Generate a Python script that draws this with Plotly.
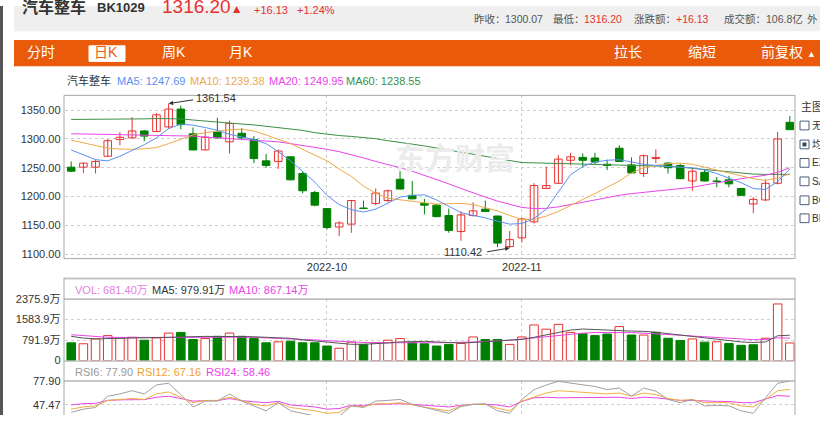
import plotly.graph_objects as go

W, H = 820, 421
FONT = "Liberation Sans, Arial, Noto Sans CJK SC, sans-serif"

# ---------------- data ----------------
dates = [
    "2022-09-01", "2022-09-02", "2022-09-05", "2022-09-06", "2022-09-07", "2022-09-08", "2022-09-09",
    "2022-09-13", "2022-09-14", "2022-09-15", "2022-09-16", "2022-09-19", "2022-09-20", "2022-09-21",
    "2022-09-22", "2022-09-23", "2022-09-26", "2022-09-27", "2022-09-28", "2022-09-29", "2022-09-30",
    "2022-10-10", "2022-10-11", "2022-10-12", "2022-10-13", "2022-10-14", "2022-10-17", "2022-10-18",
    "2022-10-19", "2022-10-20", "2022-10-21", "2022-10-24", "2022-10-25", "2022-10-26", "2022-10-27",
    "2022-10-28", "2022-10-31", "2022-11-01", "2022-11-02", "2022-11-03", "2022-11-04", "2022-11-07",
    "2022-11-08", "2022-11-09", "2022-11-10", "2022-11-11", "2022-11-14", "2022-11-15", "2022-11-16",
    "2022-11-17", "2022-11-18", "2022-11-21", "2022-11-22", "2022-11-23", "2022-11-24", "2022-11-25",
    "2022-11-28", "2022-11-29", "2022-11-30", "2022-12-01",
]
opens = [1251, 1251, 1251, 1270, 1299, 1302, 1314, 1313, 1321, 1352,
         1309, 1281, 1312, 1295, 1310, 1299, 1262, 1261, 1269, 1240,
         1207, 1179, 1147, 1152, 1180, 1188, 1193, 1230, 1202, 1188,
         1185, 1167, 1139, 1167, 1178, 1166, 1113, 1128, 1156, 1214,
         1223, 1263, 1268, 1267, 1256, 1284, 1255, 1240, 1266, 1258,
         1254, 1227, 1242, 1227, 1229, 1214, 1187, 1194, 1223, 1329]
highs = [1261, 1259, 1264, 1300, 1312, 1338, 1316, 1345, 1361.54, 1358,
         1320, 1317, 1337, 1332, 1319, 1305, 1274, 1282, 1270, 1244,
         1210, 1180, 1157, 1194, 1193, 1214, 1212, 1244, 1227, 1196,
         1187, 1179, 1174, 1190, 1193, 1167, 1140, 1163, 1223, 1252,
         1272, 1276, 1275, 1276, 1264, 1289, 1268, 1273, 1282, 1260,
         1257, 1248, 1248, 1234, 1236, 1215, 1199, 1230, 1312, 1340]
lows = [1243, 1241, 1240, 1269, 1289, 1301, 1296, 1312, 1318, 1317,
        1280, 1280, 1301, 1275, 1298, 1258, 1250, 1248, 1228, 1206,
        1183, 1143, 1131, 1137, 1178, 1185, 1190, 1212, 1195, 1169,
        1164, 1137, 1123, 1165, 1173, 1112, 1110.42, 1120, 1153, 1213,
        1222, 1254, 1251, 1256, 1246, 1260, 1240, 1234, 1258, 1240,
        1230, 1210, 1226, 1216, 1216, 1201, 1171, 1192, 1221, 1316.2]
closes = [1244, 1258, 1261, 1297, 1303, 1314, 1305, 1342, 1352, 1325,
          1281, 1303, 1302, 1327, 1302, 1266, 1254, 1279, 1229, 1210,
          1185, 1146, 1154, 1193, 1179, 1206, 1210, 1213, 1196, 1185,
          1165, 1141, 1168, 1175, 1174, 1119, 1125, 1161, 1219, 1219,
          1265, 1269, 1263, 1260, 1254, 1261, 1241, 1271, 1268, 1250,
          1231, 1244, 1227, 1226, 1222, 1202, 1195, 1223, 1300.07, 1316.2]

ma5 = [1281, 1272, 1264, 1262, 1270, 1280, 1290, 1302, 1318, 1326,
       1324, 1320, 1315, 1308, 1304, 1299, 1292, 1278, 1262, 1244,
       1225, 1202, 1186, 1177, 1173, 1178, 1189, 1199, 1202, 1203,
       1194, 1183, 1172, 1167, 1163, 1157, 1152, 1153, 1162, 1178,
       1208, 1238, 1252, 1260, 1263, 1264, 1260, 1256, 1254, 1252,
       1251, 1250, 1246, 1240, 1232, 1224, 1214, 1212, 1226, 1247.69]
ma10 = [1298, 1293, 1288, 1284, 1282.5, 1282, 1283, 1285, 1292, 1300,
        1307, 1311, 1314, 1316, 1317, 1314, 1307, 1300, 1292, 1282,
        1272, 1262, 1248, 1235, 1218, 1206, 1197, 1194, 1192, 1189,
        1187, 1187.5, 1188, 1186, 1181, 1175, 1167, 1160, 1160, 1166,
        1174, 1185, 1195, 1205, 1216, 1227, 1241, 1250, 1254, 1257,
        1258, 1256, 1251, 1246, 1240, 1235, 1231, 1228, 1232, 1239.38]
ma20 = [1309, 1309, 1308.5, 1308, 1307.5, 1307, 1306.5, 1306, 1306.5, 1306,
        1305, 1303.5, 1302, 1300.5, 1299.5, 1298, 1296.5, 1295, 1292, 1289,
        1285, 1282, 1278, 1273, 1267, 1261, 1256, 1250, 1244, 1237,
        1230, 1222, 1214, 1206, 1199, 1192, 1186, 1181, 1179, 1179.5,
        1182, 1186, 1190, 1194, 1199, 1202, 1205, 1207, 1209, 1211,
        1213, 1216, 1220, 1224, 1228, 1231, 1234, 1237, 1242, 1249.95]
ma60 = [1334, 1334, 1334, 1334.5, 1335, 1335, 1335, 1335.5, 1335.5, 1335,
        1333, 1331, 1329, 1327.5, 1326, 1324.5, 1322, 1320, 1317.5, 1315,
        1311, 1308, 1306, 1304.5, 1302.5, 1300.5, 1297, 1293.5, 1291, 1288,
        1284, 1281, 1277, 1273.5, 1270, 1266.5, 1262, 1259, 1258.5, 1258,
        1257.5, 1257, 1256.5, 1256, 1255.5, 1255.5, 1255, 1254.5, 1253.5, 1252.5,
        1251, 1249, 1246.5, 1244, 1242, 1240, 1239, 1238.5, 1238.5, 1238.55]

volumes = [687, 650, 837, 965, 876, 901, 788, 876, 1063, 1089,
           814, 851, 938, 1063, 938, 851, 687, 726, 750, 687,
           687, 563, 476, 713, 626, 687, 788, 851, 687, 650,
           563, 626, 664, 913, 814, 814, 626, 913, 1377, 1213,
           1400, 1089, 1040, 965, 1025, 1314, 987, 987, 1089, 863,
           777, 837, 713, 726, 664, 589, 612, 863, 2188, 681.4]
vol_up = [0, 1, 1, 1, 1, 1, 0, 1, 1, 0,
          0, 1, 0, 1, 0, 0, 0, 1, 0, 0,
          0, 0, 1, 1, 0, 1, 1, 1, 0, 0,
          0, 0, 1, 1, 0, 0, 1, 1, 1, 1,
          1, 1, 0, 0, 0, 1, 0, 1, 0, 0,
          0, 1, 0, 1, 0, 0, 0, 1, 1, 1]
vol_ma5 = [938, 870, 840, 845, 860, 880, 885, 890, 900, 920,
           930, 935, 930, 940, 930, 920, 900, 880, 860, 800,
           760, 700, 660, 630, 630, 650, 680, 720, 740, 745,
           720, 690, 680, 700, 740, 760, 790, 820, 900, 1000,
           1100, 1180, 1220, 1200, 1160, 1150, 1140, 1130, 1100, 1040,
           980, 920, 880, 830, 780, 720, 700, 720, 960, 979.91]
vol_ma10 = [1000, 960, 920, 900, 895, 890, 885, 885, 890, 895,
            900, 905, 905, 910, 905, 895, 880, 860, 840, 820,
            800, 770, 740, 715, 700, 690, 685, 690, 690, 690,
            690, 695, 700, 720, 740, 760, 790, 830, 880, 930,
            980, 1020, 1060, 1085, 1090, 1090, 1080, 1060, 1040, 1010,
            980, 950, 920, 890, 860, 830, 810, 810, 880, 867.14]

rsi6 = [38.1, 42.2, 44.3, 58.6, 61.5, 65.6, 61.5, 73, 75, 60.7,
        45, 52.4, 52.4, 61.5, 52.4, 46.3, 40.1, 50.4, 40.1, 36.9,
        33, 30, 33, 46.3, 44.3, 52.4, 53.3, 54.5, 48.3, 44.3,
        40.1, 36.9, 45.5, 48.3, 49, 40.1, 36.9, 54.5, 66.9, 72.8,
        77.5, 75, 73, 71, 67, 69, 58.6, 69, 65, 54.5,
        50.4, 54.5, 46.3, 47, 46.3, 40.1, 36.9, 56.6, 75, 77.90]
rsi12 = [42.2, 45, 46.3, 53.3, 54.5, 55.7, 54.5, 61.5, 64, 57.3,
         50.4, 53.3, 53.3, 57.3, 53.3, 48.3, 46.3, 50.4, 44.3, 42.2,
         40.1, 36.9, 38.1, 46.3, 45.5, 49, 49, 50.4, 47.5, 45,
         42.2, 40.1, 46.3, 48.3, 48.3, 43.4, 40.1, 52.4, 57.3, 62.6,
         65.6, 64.8, 64, 62.6, 61.5, 62.6, 58.6, 62.6, 60.7, 55.7,
         53.3, 54.5, 50.4, 50.4, 50.4, 46.3, 45, 54.5, 65.6, 67.16]
rsi24 = [47.5, 49.2, 49.6, 53.3, 54, 54.5, 54.3, 57.3, 58.6, 55.7,
         52.4, 53, 53, 55.7, 53, 51.6, 50.4, 52, 47.5, 46.3,
         45, 42.2, 43, 47, 47, 48.3, 49, 49, 48.3, 47.5,
         46.3, 45, 47, 48.3, 48.3, 47.5, 45, 52, 56.6, 57.3,
         56.6, 56.6, 56.6, 56.6, 56.6, 57.3, 55.7, 57.3, 56.6, 54.5,
         53.3, 53.3, 52.4, 52, 52, 50.4, 50.4, 54.5, 59.5, 58.46]

price_ticks = [1100, 1150, 1200, 1250, 1300, 1350]
vol_ticks = [0, 791.9, 1583.9, 2375.9]
vol_tick_text = ["0", "791.9万", "1583.9万", "2375.9万"]
rsi_ticks = [47.47, 77.90]
month_ticks = ["2022-10-10", "2022-11-01"]
month_text = ["2022-10", "2022-11"]

# ---------------- colours ----------------
RED = "#e8312f"
GREEN = "#008000"
C_MA5 = "#5b8ff0"
C_MA10 = "#eea84a"
C_MA20 = "#e845e8"
C_MA60 = "#3a8f46"
ORANGE = "#ea5a0b"


def px(x):
    return x / W


def py(y):
    return 1 - y / H


X0, X1 = 64.5, 795.0
SLOT, FIRST = 12.18, 71.2
xrange_ = [(X0 - FIRST) / SLOT, (X1 - FIRST) / SLOT]
xdom = [px(X0), px(X1)]

fig = go.Figure()

# ---- candle wicks ----
up = [c >= o for o, c in zip(opens, closes)]
for flag, col in ((True, RED), (False, GREEN)):
    xs, ys = [], []
    for i, d in enumerate(dates):
        if up[i] == flag:
            xs += [d, d, None]
            ys += [lows[i], highs[i], None]
    fig.add_trace(go.Scatter(x=xs, y=ys, mode="lines", line=dict(color=col, width=1),
                             hoverinfo="skip", showlegend=False, xaxis="x", yaxis="y"))

# ---- candle bodies ----
fig.add_trace(go.Bar(
    x=dates,
    y=[max(abs(c - o), 0.5) for o, c in zip(opens, closes)],
    base=[min(o, c) for o, c in zip(opens, closes)],
    width=0.62,
    marker=dict(color=["#ffffff" if u else GREEN for u in up],
                line=dict(color=[RED if u else GREEN for u in up], width=1)),
    showlegend=False, xaxis="x", yaxis="y", hoverinfo="skip"))

# ---- moving averages ----
for arr, col in ((ma60, C_MA60), (ma20, C_MA20), (ma10, C_MA10), (ma5, C_MA5)):
    fig.add_trace(go.Scatter(x=dates, y=arr, mode="lines", line=dict(color=col, width=1),
                             showlegend=False, xaxis="x", yaxis="y", hoverinfo="skip"))

# ---- volume ----
fig.add_trace(go.Bar(
    x=dates, y=volumes, width=0.7,
    marker=dict(color=["#ffffff" if u else GREEN for u in vol_up],
                line=dict(color=[RED if u else GREEN for u in vol_up], width=1)),
    showlegend=False, xaxis="x2", yaxis="y2", hoverinfo="skip"))
fig.add_trace(go.Scatter(x=dates, y=vol_ma10, mode="lines", line=dict(color=C_MA20, width=1),
                         showlegend=False, xaxis="x2", yaxis="y2", hoverinfo="skip"))
fig.add_trace(go.Scatter(x=dates, y=vol_ma5, mode="lines", line=dict(color="#555555", width=1),
                         showlegend=False, xaxis="x2", yaxis="y2", hoverinfo="skip"))

# ---- RSI ----
for arr, col in ((rsi24, C_MA20), (rsi12, "#f0b040"), (rsi6, "#a0a0a0")):
    fig.add_trace(go.Scatter(x=dates, y=arr, mode="lines", line=dict(color=col, width=1),
                             showlegend=False, xaxis="x3", yaxis="y3", hoverinfo="skip"))

tickfont = dict(family=FONT, size=11, color="#333333")
xcommon = dict(domain=xdom, type="category", categoryorder="array", categoryarray=dates,
               range=xrange_, tickvals=month_ticks, ticktext=month_text, showgrid=True,
               gridcolor="#cfcfcf", griddash="dot", gridwidth=1, zeroline=False,
               showline=False, ticks="", tickfont=tickfont, fixedrange=True)

fig.update_layout(
    width=W, height=H, margin=dict(l=0, r=0, t=0, b=0),
    paper_bgcolor="white", plot_bgcolor="white", bargap=0,
    font=dict(family=FONT, size=11, color="#333333"),
    xaxis=dict(xcommon, anchor="y"),
    yaxis=dict(domain=[py(260), py(92)], range=[1092.06, 1375.84], tickvals=price_ticks,
               ticktext=["%.2f" % v for v in price_ticks], showgrid=True, gridcolor="#cfcfcf",
               griddash="dot", zeroline=False, ticks="", tickfont=tickfont, anchor="x",
               ticklabelstandoff=3),
    xaxis2=dict(xcommon, anchor="y2", matches="x", showticklabels=False),
    yaxis2=dict(domain=[py(365), py(301.7)], range=[0, 2375.9], tickvals=vol_ticks,
                ticktext=vol_tick_text, showgrid=True, gridcolor="#cfcfcf", griddash="dot",
                zeroline=False, ticks="", tickfont=tickfont, anchor="x2", ticklabelstandoff=3),
    xaxis3=dict(xcommon, anchor="y3", matches="x", showticklabels=False),
    yaxis3=dict(domain=[0, py(386)], range=[34.78, 77.90], tickvals=rsi_ticks,
                ticktext=["%.2f" % v for v in rsi_ticks], showgrid=True, gridcolor="#cfcfcf",
                griddash="dot", zeroline=False, ticks="", tickfont=tickfont, anchor="x3",
                ticklabelstandoff=3),
)

shapes = []


def rect(x0, y0, x1, y1, fill=None, line=None, lw=1, layer="below"):
    shapes.append(dict(type="rect", xref="paper", yref="paper", x0=px(x0), x1=px(x1),
                       y0=py(y1), y1=py(y0), fillcolor=fill or "rgba(0,0,0,0)",
                       line=dict(color=line or "rgba(0,0,0,0)", width=lw if line else 0),
                       layer=layer))


def hline(x0, x1, y, col="#999999", lw=1):
    shapes.append(dict(type="line", xref="paper", yref="paper", x0=px(x0), x1=px(x1),
                       y0=py(y), y1=py(y), line=dict(color=col, width=lw), layer="above"))


def vline(x, y0, y1, col="#999999", lw=1):
    shapes.append(dict(type="line", xref="paper", yref="paper", x0=px(x), x1=px(x),
                       y0=py(y0), y1=py(y1), line=dict(color=col, width=lw), layer="above"))


# page chrome
rect(0, 0, 3, H, fill="#555555")
rect(14, 0, W, 26, fill="#efefef")
rect(14, 35, W, 62, fill=ORANGE)
rect(89, 41, 125, 57, fill="white", line="white", lw=1)
# main frame
rect(64, 92, 795, 260, line="#a8a8a8", layer="above")
# lower panels
hline(64, 795, 280.5, col="#c4c4c4", lw=2)
vline(64, 280, H, col="#a8a8a8")
vline(795, 280, H, col="#a8a8a8")
hline(64, 795, 301.7, col="#909090")
hline(64, 795, 365.5, col="#a8a8a8")
hline(64, 795, 386, col="#909090")
# side panel checkboxes
box_y = [123, 142.5, 161.5, 180.5, 200, 218.5]
for k, yy in enumerate(box_y):
    rect(800, yy - 4.5, 809, yy + 4.5, fill="white", line="#4d5e7a", layer="above")
    if k == 1:
        rect(802.5, yy - 2, 806.5, yy + 2, fill="#34495e", layer="above")
fig.update_layout(shapes=shapes)

ann = []


def txt(x, y, s, size=11, color="#333333", anchor="left", bold=False):
    if bold:
        s = "<b>" + s + "</b>"
    ann.append(dict(x=px(x), y=py(y), xref="paper", yref="paper", text=s, showarrow=False,
                    xanchor=anchor, yanchor="middle", font=dict(family=FONT, size=size, color=color)))


# header
txt(20, 1, "汽车整车", size=16, color="#333333", bold=True)
txt(95, 2, "BK1029", size=13, color="#333333", bold=True)
txt(160, 1, "1316.20<span style='font-size:12px'>▲</span>", size=19, color=RED)
txt(252, 4, "+16.13", size=11, color=RED)
txt(295, 4, "+1.24%", size=11, color=RED)
HS = 10.5
txt(472, 13, "昨收：", size=HS, color="#555555")
txt(503, 13, "1300.07", size=HS, color="#555555")
txt(551, 13, "最低：", size=HS, color="#555555")
txt(582, 13, "1316.20", size=HS, color=RED)
txt(632, 13, "涨跌额：", size=HS, color="#555555")
txt(674, 13, "+16.13", size=HS, color=RED)
txt(722, 13, "成交额：", size=HS, color="#555555")
txt(764, 13, "106.8亿", size=HS, color="#555555")
txt(805, 13, "外", size=HS, color="#555555")
# toolbar
txt(25, 47.5, "分时", size=14, color="white")
txt(92, 47.5, "日K", size=14, color=ORANGE)
txt(160, 47.5, "周K", size=14, color="white")
txt(227, 47.5, "月K", size=14, color="white")
txt(612, 47.5, "拉长", size=14, color="white")
txt(686, 47.5, "缩短", size=14, color="white")
txt(759, 47.5, "前复权 <span style='font-size:9px'>▲</span>", size=14, color="white")
# legend row
txt(65, 77, "汽车整车", size=11, color="#333333")
txt(115, 77, "MA5: 1247.69", size=11, color=C_MA5)
txt(188, 77, "MA10: 1239.38", size=11, color=C_MA10)
txt(267, 77, "MA20: 1249.95", size=11, color=C_MA20)
txt(344, 77, "MA60: 1238.55", size=11, color=C_MA60)
# watermark
txt(455, 157, "东方财富", size=30, color="#ececec", anchor="center", bold=True)
# volume / rsi rows
txt(73, 292, "VOL: 681.40万", size=11, color="#e37ee3")
txt(150, 292, "MA5: 979.91万", size=11, color="#333333")
txt(227, 292, "MA10: 867.14万", size=11, color=C_MA20)
txt(73, 377, "RSI6: 77.90", size=11, color="#999999")
txt(135, 377, "RSI12: 67.16", size=11, color="#f0a030")
txt(204, 377, "RSI24: 58.46", size=11, color=C_MA20)
# side panel
txt(799, 104, "主图", size=11, color="#333333")
for lab, yy in zip(["无", "均", "EX", "SA", "BO", "BB"], box_y):
    txt(810, yy, lab, size=10, color="#333333")

# high / low markers
ann.append(dict(x=dates[8], y=1361.54, xref="x", yref="y", text="", showarrow=True,
                ax=26, ay=-4, arrowhead=2, arrowsize=0.9, arrowwidth=1, arrowcolor="#333333"))
txt(194, 95, "1361.54", size=11, color="#333333")
ann.append(dict(x=dates[36], y=1110.42, xref="x", yref="y", text="", showarrow=True,
                ax=-24, ay=4, arrowhead=2, arrowsize=0.9, arrowwidth=1, arrowcolor="#333333"))
txt(484, 253, "1110.42", size=11, color="#333333", anchor="right")

fig.update_layout(annotations=ann)
fig.write_html(
    "out.html",
    config={"displayModeBar": False, "staticPlot": True},
    post_script="document.body.style.margin='0px';document.body.style.padding='0px';"
                "document.body.style.overflow='hidden';"
                "document.documentElement.style.overflow='hidden';",
)
